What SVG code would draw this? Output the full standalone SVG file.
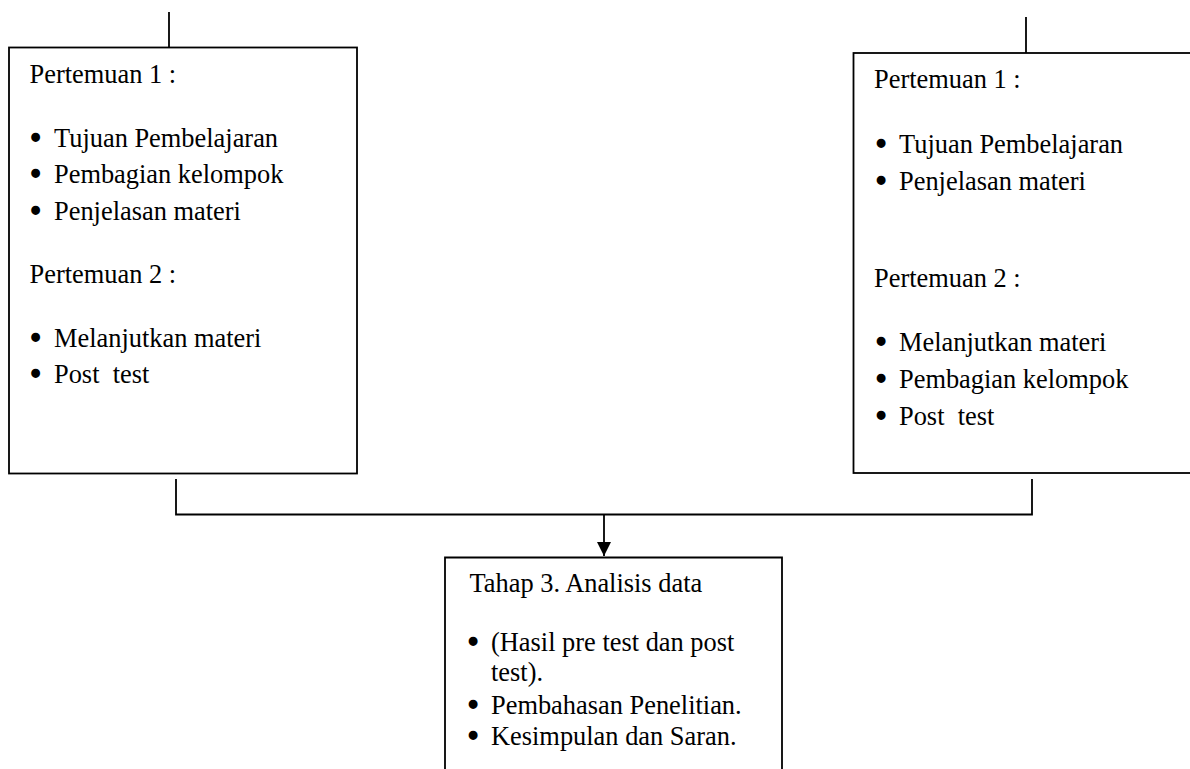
<svg xmlns="http://www.w3.org/2000/svg" width="1190" height="769" viewBox="0 0 1190 769">
<style>
.box{fill:#fff;stroke:#000;stroke-width:1.8}
.ln{fill:none;stroke:#000;stroke-width:1.8}
text{font-family:"Liberation Serif","Times New Roman",serif;font-size:26.4px;fill:#000}
.b{text-anchor:middle;stroke:#000;stroke-width:2.6;stroke-linejoin:round}
</style>
<defs>
<marker id="arr" markerWidth="16" markerHeight="16" viewBox="0 0 16 16" refX="14" refY="8" orient="auto" markerUnits="userSpaceOnUse">
<path d="M0,1 L14,8 L0,15 Z" fill="#000"/>
</marker>
</defs>
<rect width="1190" height="769" fill="#fff"/>
<g id="connectors">
<line class="ln" x1="169" y1="12" x2="169" y2="47"/>
<line class="ln" x1="1026" y1="17" x2="1026" y2="53"/>
<polyline class="ln" points="176,479 176,514.5 1032,514.5 1032,479"/>
<line class="ln" x1="604" y1="514.5" x2="604" y2="556" marker-end="url(#arr)"/>
</g>
<g id="left-box">
<rect class="box" x="9" y="47.5" width="348" height="426"/>
<text x="29.5" y="83">Pertemuan 1 :</text>
<text class="b" x="35.5" y="147">•</text><text x="54" y="147">Tujuan Pembelajaran</text>
<text class="b" x="35.5" y="183">•</text><text x="54" y="183">Pembagian kelompok</text>
<text class="b" x="35.5" y="220">•</text><text x="54" y="220">Penjelasan materi</text>
<text x="29.5" y="283">Pertemuan 2 :</text>
<text class="b" x="35.5" y="347">•</text><text x="54" y="347">Melanjutkan materi</text>
<text class="b" x="35.5" y="383">•</text><text x="54" y="383" xml:space="preserve">Post  test</text>
</g>
<g id="right-box">
<rect class="box" x="853.5" y="53" width="400" height="420"/>
<text x="874" y="88">Pertemuan 1 :</text>
<text class="b" x="881" y="153">•</text><text x="899" y="153">Tujuan Pembelajaran</text>
<text class="b" x="881" y="190">•</text><text x="899" y="190">Penjelasan materi</text>
<text x="874" y="287">Pertemuan 2 :</text>
<text class="b" x="881" y="351">•</text><text x="899" y="351">Melanjutkan materi</text>
<text class="b" x="881" y="388">•</text><text x="899" y="388">Pembagian kelompok</text>
<text class="b" x="881" y="425">•</text><text x="899" y="425" xml:space="preserve">Post  test</text>
</g>
<g id="analysis-box">
<path class="box" d="M445,772 V557.5 H782 V772"/>
<text x="469.5" y="592">Tahap 3. Analisis data</text>
<text class="b" x="473" y="651">•</text><text x="491" y="651">(Hasil pre test dan post</text>
<text x="491" y="681">test).</text>
<text class="b" x="473" y="714">•</text><text x="491" y="714">Pembahasan Penelitian.</text>
<text class="b" x="473" y="745">•</text><text x="491" y="745">Kesimpulan dan Saran.</text>
</g>
</svg>
